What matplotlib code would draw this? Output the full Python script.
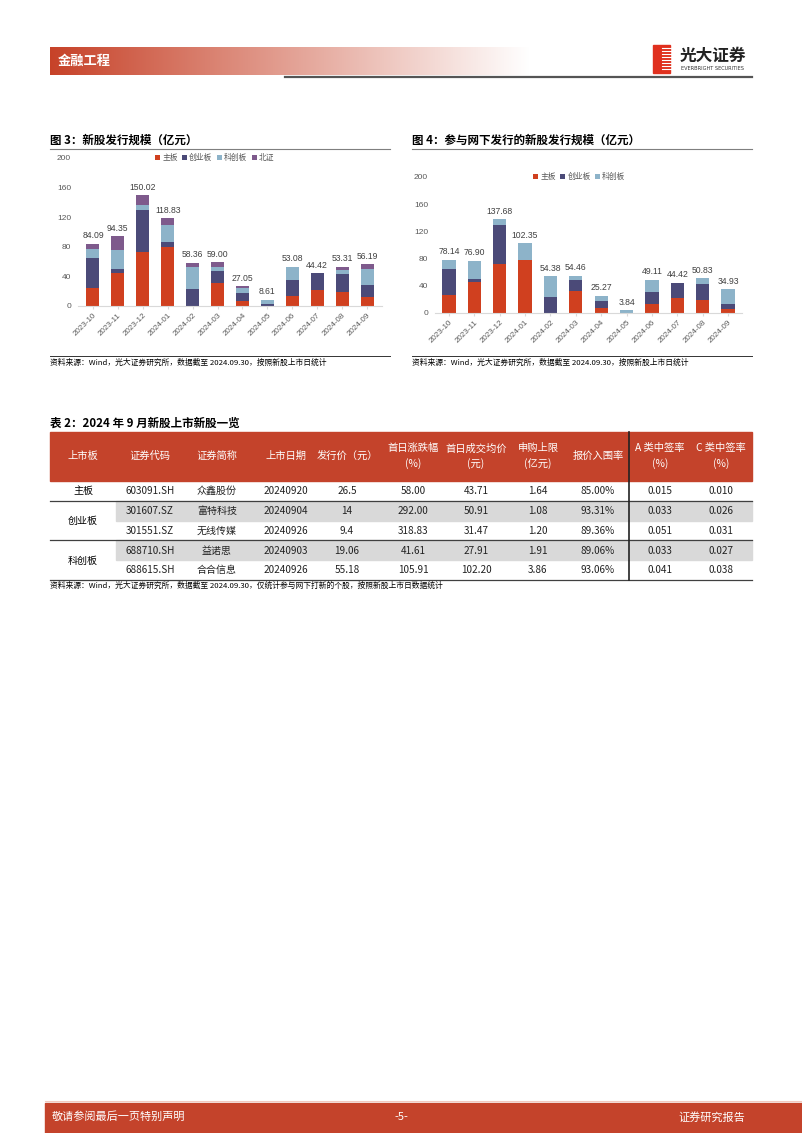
import numpy as np
import matplotlib
matplotlib.use('Agg')
import matplotlib.pyplot as plt
from matplotlib.patches import Rectangle

plt.rcParams['font.family'] = ['Noto Sans CJK SC', 'DejaVu Sans']

RED = '#D0401F'
NAVY = '#4B4A78'
LBLUE = '#8DB3C9'
PURP = '#7E5A8C'
HDR = '#C4432B'

months = ['2023-10', '2023-11', '2023-12', '2024-01', '2024-02', '2024-03',
          '2024-04', '2024-05', '2024-06', '2024-07', '2024-08', '2024-09']

# 图3 新股发行规模（亿元）
main3 = [24.5, 44.0, 72.9, 79.2, 0.0, 31.7, 6.3, 0.0, 13.1, 21.3, 19.0, 12.2]
gem3 = [40.5, 6.0, 57.0, 7.2, 22.6, 15.8, 11.3, 2.2, 21.7, 23.12, 24.9, 16.8]
star3 = [11.5, 25.6, 6.8, 23.1, 30.3, 5.4, 6.8, 5.6, 18.28, 0.0, 5.4, 21.2]
bse3 = [7.59, 18.75, 13.32, 9.33, 5.46, 6.1, 2.65, 0.81, 0.0, 0.0, 4.01, 5.99]
tot3 = [84.09, 94.35, 150.02, 118.83, 58.36, 59.00, 27.05, 8.61, 53.08, 44.42, 53.31, 56.19]

# 图4 参与网下发行的新股发行规模（亿元）
main4 = [25.9, 44.9, 72.2, 78.0, 0.0, 31.7, 6.8, 0.0, 13.2, 22.0, 19.5, 5.9]
gem4 = [39.5, 5.8, 57.1, 0.0, 22.9, 17.1, 11.2, 0.0, 18.0, 22.42, 23.4, 6.8]
star4 = [12.74, 26.2, 8.38, 24.35, 31.48, 5.66, 7.27, 3.84, 17.91, 0.0, 7.93, 22.23]
tot4 = [78.14, 76.90, 137.68, 102.35, 54.38, 54.46, 25.27, 3.84, 49.11, 44.42, 50.83, 34.93]

# 表2
headers = ['上市板', '证券代码', '证券简称', '上市日期', '发行价（元）', '首日涨跌幅\n(%)',
           '首日成交均价\n(元)', '申购上限\n(亿元)', '报价入围率', 'A 类中签率\n(%)', 'C 类中签率\n(%)']
boards = ['主板', '创业板', '科创板']
codes = ['603091.SH', '301607.SZ', '301551.SZ', '688710.SH', '688615.SH']
names = ['众鑫股份', '富特科技', '无线传媒', '益诺思', '合合信息']
dates = ['20240920', '20240904', '20240926', '20240903', '20240926']
prices = ['26.5', '14', '9.4', '19.06', '55.18']
first_chg = ['58.00', '292.00', '318.83', '41.61', '105.91']
first_avg = ['43.71', '50.91', '31.47', '27.91', '102.20']
sub_cap = ['1.64', '1.08', '1.20', '1.91', '3.86']
in_rate = ['85.00%', '93.31%', '89.36%', '89.06%', '93.06%']
rate_a = ['0.015', '0.033', '0.051', '0.033', '0.041']
rate_c = ['0.010', '0.026', '0.031', '0.027', '0.038']

W, H = 802, 1133
fig = plt.figure(figsize=(W / 100, H / 100), dpi=100)
bg = fig.add_axes([0, 0, 1, 1])
bg.set_xlim(0, W)
bg.set_ylim(H, 0)
bg.axis('off')

# page header
grad = np.linspace(0, 1, 256).reshape(1, -1)
c0 = np.array([0.78, 0.26, 0.16])
img = c0[None, None, :] * (1 - grad[..., None]) + np.ones(3)[None, None, :] * grad[..., None]
bg.imshow(img, extent=[50, 530, 75, 47], aspect='auto', zorder=1)
bg.text(58, 61, '金融工程', color='white', fontsize=9.5, fontweight='bold', va='center', zorder=2)
bg.plot([285, 752], [77, 77], color='#555555', lw=1.6)
# logo
bg.add_patch(Rectangle((653, 45), 17, 28, color='#E0301E', zorder=2))
for yy in range(48, 72, 3):
    bg.plot([662, 670.5], [yy, yy], color='white', lw=0.8, zorder=3)
bg.text(680, 56, '光大证券', fontsize=12, fontweight='bold', va='center', color='#222222')
bg.text(681, 69, 'EVERBRIGHT SECURITIES', fontsize=3.6, va='center', color='#333333',
        family=['DejaVu Sans'])

# figure titles and source lines
bg.text(50, 140, '图 3：新股发行规模（亿元）', fontsize=8.3, fontweight='bold', va='center')
bg.plot([50, 390], [149, 149], color='#7f7f7f', lw=0.8)
bg.text(412, 140, '图 4：参与网下发行的新股发行规模（亿元）', fontsize=8.3, fontweight='bold', va='center')
bg.plot([412, 752], [149, 149], color='#7f7f7f', lw=0.8)
src = '资料来源：Wind，光大证券研究所，数据截至 2024.09.30，按照新股上市日统计'
bg.plot([50, 390], [356, 356], color='#333333', lw=0.7)
bg.plot([412, 752], [356, 356], color='#333333', lw=0.7)
bg.text(50, 363, src, fontsize=5.6, va='center')
bg.text(412, 363, src, fontsize=5.6, va='center')


def stacked(rect, series, colors, labels, totals, ymax, ticks, xlim, leg_x):
    l, t, r, b = rect
    ax = fig.add_axes([l / W, 1 - b / H, (r - l) / W, (b - t) / H])
    x = np.arange(len(months))
    bottom = np.zeros(len(months))
    for vals, c, lab in zip(series, colors, labels):
        ax.bar(x, vals, 0.52, bottom=bottom, color=c, label=lab)
        bottom = bottom + np.array(vals)
    for i, v in enumerate(totals):
        ax.annotate(f'{v:.2f}', (x[i], bottom[i]), xytext=(0, 2.5), textcoords='offset points',
                    ha='center', va='bottom', fontsize=6.2, color='#404040',
                    family=['Liberation Sans'])
    ax.set_ylim(0, ymax)
    ax.set_xlim(*xlim)
    ax.set_yticks(ticks)
    ax.set_xticks(x)
    ax.set_xticklabels(months, rotation=45, ha='right', rotation_mode='anchor')
    for s in ['top', 'right', 'left']:
        ax.spines[s].set_visible(False)
    ax.spines['bottom'].set_color('#d9d9d9')
    ax.tick_params(axis='y', length=0, pad=5, labelsize=6, labelcolor='#595959')
    ax.tick_params(axis='x', length=2, color='#d9d9d9', pad=2, labelsize=5.8, labelcolor='#595959')
    for tl in ax.get_xticklabels() + ax.get_yticklabels():
        tl.set_family(['Liberation Sans'])
    ax.patch.set_alpha(0)
    ax.legend(loc='center', bbox_to_anchor=(leg_x, 1.0), ncol=len(series), frameon=False,
              fontsize=5.6, handlelength=0.6, handleheight=0.6, handletextpad=0.3,
              columnspacing=0.6, labelcolor='#595959')
    return ax


stacked((78, 158, 382, 306), [main3, gem3, star3, bse3], [RED, NAVY, LBLUE, PURP],
        ['主板', '创业板', '科创板', '北证'], tot3, 200, [0, 40, 80, 120, 160, 200],
        (-0.6, 11.6), 0.45)
stacked((435, 177, 742, 313), [main4, gem4, star4], [RED, NAVY, LBLUE],
        ['主板', '创业板', '科创板'], tot4, 200, [0, 40, 80, 120, 160, 200],
        (-0.55, 11.55), 0.47)

# table
bg.text(50, 423, '表 2：2024 年 9 月新股上市新股一览', fontsize=8.3, fontweight='bold', va='center')
bg.add_patch(Rectangle((50, 432), 702, 49, color=HDR, zorder=1))
col_x = [83, 150, 217, 286, 347, 413, 476, 538, 598, 660, 721]
for cx, h in zip(col_x, headers):
    bg.text(cx, 456, h, color='white', fontsize=7.4, fontweight='medium', ha='center', va='center',
            linespacing=1.5, zorder=2)
row_y = [491, 511, 531, 551, 570]
row_top = 481
row_h = 19.8
for i in (1, 3):
    bg.add_patch(Rectangle((116, row_top + i * row_h), 752 - 116, row_h, color='#D9D9D9', zorder=0))
bg.text(col_x[0], row_y[0], boards[0], fontsize=7.2, ha='center', va='center')
bg.text(col_x[0], (row_y[1] + row_y[2]) / 2, boards[1], fontsize=7.2, ha='center', va='center')
bg.text(col_x[0], (row_y[3] + row_y[4]) / 2, boards[2], fontsize=7.2, ha='center', va='center')
cols = [codes, names, dates, prices, first_chg, first_avg, sub_cap, in_rate, rate_a, rate_c]
for j, col in enumerate(cols):
    for i, v in enumerate(col):
        bg.text(col_x[j + 1], row_y[i], v, fontsize=7.2, ha='center', va='center', color='#222222')
for yy in (row_top + row_h, row_top + 3 * row_h):
    bg.plot([50, 752], [yy, yy], color='#404040', lw=0.9)
bg.plot([50, 752], [row_top + 5 * row_h, row_top + 5 * row_h], color='#404040', lw=0.9)
bg.plot([629, 629], [432, row_top + 5 * row_h], color='#222222', lw=1.2)
bg.text(50, 586, '资料来源：Wind，光大证券研究所，数据截至 2024.09.30，仅统计参与网下打新的个股，按照新股上市日数据统计',
        fontsize=5.6, va='center')

# footer
bg.add_patch(Rectangle((45, 1103), W - 45, 30, color='#C4432B', zorder=1))
bg.plot([45, W], [1101, 1101], color='#F2C9BF', lw=0.8)
bg.text(52, 1117, '敬请参阅最后一页特别声明', color='white', fontsize=8, va='center', zorder=2)
bg.text(401, 1117, '-5-', color='white', fontsize=8, va='center', ha='center', zorder=2)
bg.text(745, 1117, '证券研究报告', color='white', fontsize=8, va='center', ha='right', zorder=2)

fig.savefig('out.png', dpi=100)
